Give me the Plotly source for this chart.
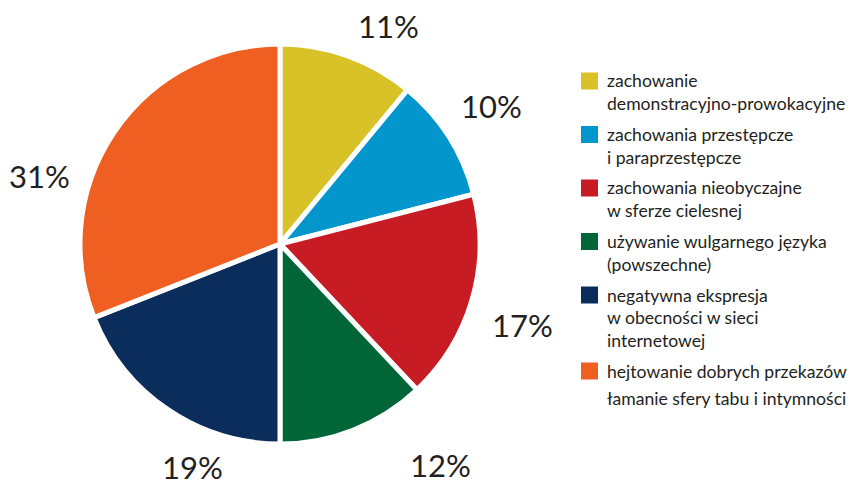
import plotly.graph_objects as go

# Share of each behaviour category (percent), clockwise from 12 o'clock
categories = [
    "zachowanie demonstracyjno-prowokacyjne",
    "zachowania przestępcze i paraprzestępcze",
    "zachowania nieobyczajne w sferze cielesnej",
    "używanie wulgarnego języka (powszechne)",
    "negatywna ekspresja w obecności w sieci internetowej",
    "hejtowanie dobrych przekazów łamanie sfery tabu i intymności",
]
values = [11, 10, 17, 12, 19, 31]
colors = ["#D8C227", "#0396CC", "#C81C24", "#006638", "#0A2D5C", "#F05F22"]

# Legend text, broken into display lines
legend_lines = [
    ["zachowanie", "demonstracyjno-prowokacyjne"],
    ["zachowania przestępcze", "i paraprzestępcze"],
    ["zachowania nieobyczajne", "w sferze cielesnej"],
    ["używanie wulgarnego języka", "(powszechne)"],
    ["negatywna ekspresja", "w obecności w sieci", "internetowej"],
    ["hejtowanie dobrych przekazów"],
]
legend_extra = "łamanie sfery tabu i intymności"

W, H = 852, 487
TEXT = "#231F20"
FONT = "Lato"


def px(x):
    return x / W


def py(y):
    return 1 - y / H


# Pie geometry (pixels)
cx, cy, r = 280, 244, 200

fig = go.Figure(
    go.Pie(
        labels=categories,
        values=values,
        sort=False,
        direction="clockwise",
        rotation=0,
        marker=dict(colors=colors, line=dict(color="white", width=5)),
        textinfo="none",
        hoverinfo="skip",
        showlegend=False,
        domain=dict(x=[px(cx - r), px(cx + r)], y=[py(cy + r), py(cy - r)]),
    )
)

# Percentage labels placed around the pie
label_pos = [(388, 26), (491, 106), (522, 325), (440, 465), (192, 467), (39, 176)]
annotations = []
for v, (lx, ly) in zip(values, label_pos):
    annotations.append(dict(
        x=px(lx), y=py(ly), xref="paper", yref="paper",
        text=f"{v}%", showarrow=False, xanchor="center", yanchor="middle",
        font=dict(family=FONT, size=31, color=TEXT),
    ))

# Custom legend: coloured squares with multi-line captions
shapes = []
sq_x0, sq_size = 581, 17
text_x = 605
line_gap = 22.5
item_gap = 8.5
top = 72.5
legend_font = dict(family=FONT, size=17.6, color=TEXT)
for col, lines in zip(colors, legend_lines):
    shapes.append(dict(
        type="rect", xref="paper", yref="paper",
        x0=px(sq_x0), x1=px(sq_x0 + sq_size),
        y0=py(top + sq_size), y1=py(top),
        fillcolor=col, line=dict(width=0),
    ))
    mid = top + sq_size / 2
    for i, ln in enumerate(lines):
        annotations.append(dict(
            x=px(text_x), y=py(mid + i * line_gap), xref="paper", yref="paper",
            text=ln, showarrow=False, xanchor="left", yanchor="middle",
            font=legend_font,
        ))
    top += len(lines) * line_gap + item_gap
# last caption line of the orange item
annotations.append(dict(
    x=px(text_x), y=py(398), xref="paper", yref="paper",
    text=legend_extra, showarrow=False, xanchor="left", yanchor="middle",
    font=legend_font,
))

fig.update_layout(
    width=W, height=H,
    margin=dict(l=0, r=0, t=0, b=0),
    paper_bgcolor="white", plot_bgcolor="white",
    annotations=annotations, shapes=shapes,
)

fig.write_html("out.html", config={"displayModeBar": False})
